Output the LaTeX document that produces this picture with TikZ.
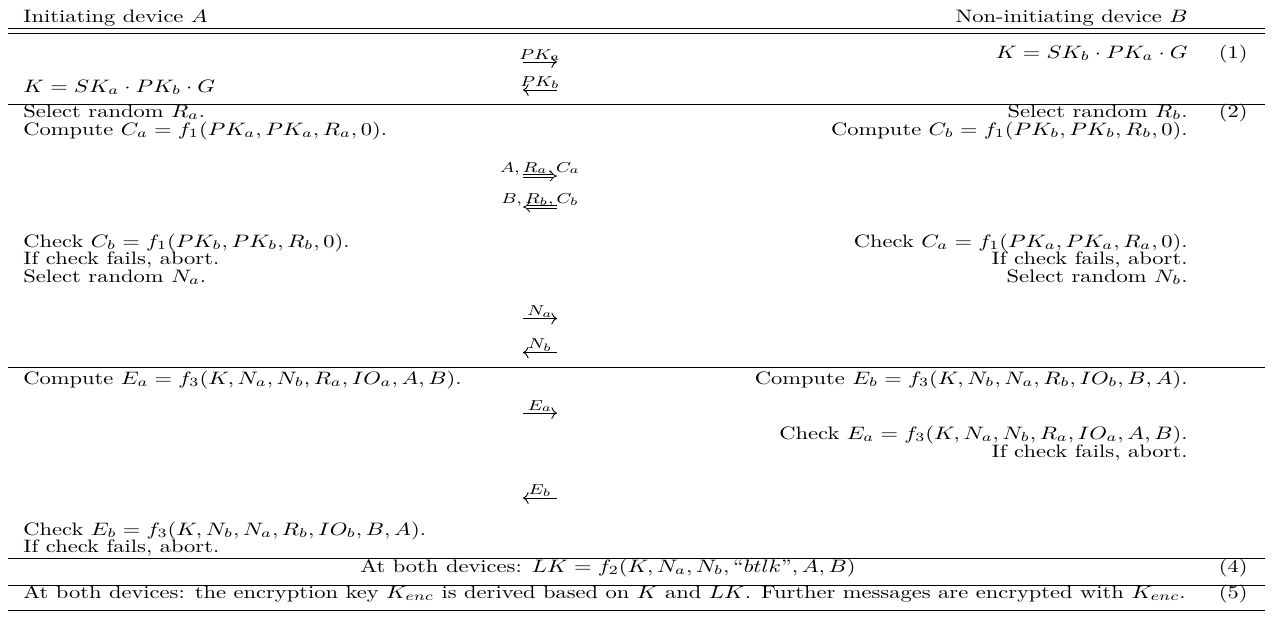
\documentclass[tikz,border=0pt]{standalone}
\usetikzlibrary{arrows.meta}
\begin{document}
\begin{tikzpicture}[x=0.4444pt,y=-0.5555pt,yscale=0.8,
  every node/.append style={transform shape},
  lt/.style={anchor=base west,inner sep=0pt},
  rt/.style={anchor=base east,inner sep=0pt},
  ct/.style={anchor=base,inner sep=0pt},
  msg/.style={->,line width=0.4pt},
  dmsg/.style={double,double distance=1.3pt,line width=0.35pt},
  lbl/.style={midway,above,inner sep=0.4pt,font=\footnotesize}]
  \useasboundingbox (0,0) rectangle (1279,616);

  % Header
  \node[lt] (hA) at (23,22) {Initiating device $A$};
  \node[rt] (hB) at (1188,22) {Non-initiating device $B$};
  \draw[line width=0.4pt] (8,28.5) -- (1265,28.5);
  \draw[line width=0.4pt] (8,33) -- (1265,33);

  % Horizontal rules
  \foreach \y in {104,367,558,585,610}
    \draw[line width=0.4pt] (8,\y) -- (1265,\y);

  % Phase 1: public keys
  \node[rt] (kB) at (1188,58) {$K = SK_b \cdot PK_a \cdot G$};
  \node[rt] (eq1) at (1248,58) {(1)};
  \node[lt] (kA) at (23,92) {$K = SK_a \cdot PK_b \cdot G$};
  \coordinate (pkaW) at (523,62);
  \coordinate (pkaE) at (557,62);
  \draw[msg] (pkaW) -- (pkaE) node[lbl] {$PK_a$};
  \coordinate (pkbW) at (523,90);
  \coordinate (pkbE) at (557,90);
  \draw[msg] (pkbE) -- (pkbW) node[lbl] {$PK_b$};

  % Phase 2: commitments
  \node[lt] (selRa) at (23,117) {Select random $R_a$.};
  \node[rt] (selRb) at (1188,117) {Select random $R_b$.};
  \node[rt] (eq2) at (1248,117) {(2)};
  \node[lt] (compCa) at (23,135) {Compute $C_a = f_1(PK_a, PK_a, R_a, 0)$.};
  \node[rt] (compCb) at (1188,135) {Compute $C_b = f_1(PK_b, PK_b, R_b, 0)$.};
  \coordinate (caW) at (523,176);
  \coordinate (caE) at (557,176);
  \draw[dmsg,-{Implies}] (caW) -- (caE) node[lbl] {$A, R_a, C_a$};
  \coordinate (cbW) at (523,207);
  \coordinate (cbE) at (557,207);
  \draw[dmsg,-{Implies}] (cbE) -- (cbW) node[lbl] {$B, R_b, C_b$};
  \node[lt] (chkCb) at (23,247) {Check $C_b = f_1(PK_b, PK_b, R_b, 0)$.};
  \node[rt] (chkCa) at (1188,247) {Check $C_a = f_1(PK_a, PK_a, R_a, 0)$.};
  \node[lt] (abA1) at (23,264.5) {If check fails, abort.};
  \node[rt] (abB1) at (1188,264.5) {If check fails, abort.};
  \node[lt] (selNa) at (23,282) {Select random $N_a$.};
  \node[rt] (selNb) at (1188,282) {Select random $N_b$.};
  \coordinate (naW) at (523,318.5);
  \coordinate (naE) at (557,318.5);
  \draw[msg] (naW) -- (naE) node[lbl] {$N_a$};
  \coordinate (nbW) at (523,352.5);
  \coordinate (nbE) at (557,352.5);
  \draw[msg] (nbE) -- (nbW) node[lbl] {$N_b$};

  % Phase 3: checks
  \node[lt] (compEa) at (23,384) {Compute $E_a = f_3(K, N_a, N_b, R_a, IO_a, A, B)$.};
  \node[rt] (compEb) at (1188,384) {Compute $E_b = f_3(K, N_b, N_a, R_b, IO_b, B, A)$.};
  \coordinate (eaW) at (523,413);
  \coordinate (eaE) at (557,413);
  \draw[msg] (eaW) -- (eaE) node[lbl] {$E_a$};
  \node[rt] (chkEa) at (1188,439) {Check $E_a = f_3(K, N_a, N_b, R_a, IO_a, A, B)$.};
  \node[rt] (abB2) at (1188,457) {If check fails, abort.};
  \coordinate (ebW) at (523,498);
  \coordinate (ebE) at (557,498);
  \draw[msg] (ebE) -- (ebW) node[lbl] {$E_b$};
  \node[lt] (chkEb) at (23,535) {Check $E_b = f_3(K, N_b, N_a, R_b, IO_b, B, A)$.};
  \node[lt] (abA2) at (23,552) {If check fails, abort.};

  % Phase 4 and 5
  \node[ct] (lk) at (608,572) {At both devices: $LK = f_2(K, N_a, N_b, \mbox{``}btlk\mbox{''}, A, B)$};
  \node[rt] (eq4) at (1248,572) {(4)};
  \node[lt] (kenc) at (23,598) {At both devices: the encryption key $K_{enc}$ is derived based on $K$ and $LK$. Further messages are encrypted with $K_{enc}$.};
  \node[rt] (eq5) at (1248,598) {(5)};
\end{tikzpicture}
\end{document}
